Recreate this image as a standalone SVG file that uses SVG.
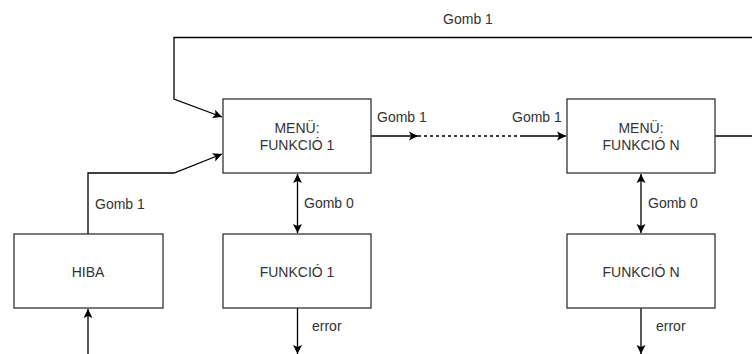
<svg xmlns="http://www.w3.org/2000/svg" width="752" height="354" viewBox="0 0 752 354">
<style>
.box{fill:#fff;stroke:#333;stroke-width:1.3}
.t{font-family:"Liberation Sans",Arial,sans-serif;font-size:14px;fill:#333}
.c{text-anchor:middle}
.e{fill:none;stroke:#000;stroke-width:1.3}
.d{stroke-dasharray:3 3}
</style>
<defs>
<marker id="ah" markerWidth="12" markerHeight="12" refX="0" refY="0" viewBox="-10 -6 12 12" orient="auto" markerUnits="userSpaceOnUse">
<path d="M-9,-4.5 L0,0 L-9,4.5 L-7,0 z" fill="#000"/>
</marker>
<marker id="ahs" markerWidth="12" markerHeight="12" refX="0" refY="0" viewBox="-10 -6 12 12" orient="auto-start-reverse" markerUnits="userSpaceOnUse">
<path d="M-9,-4.5 L0,0 L-9,4.5 L-7,0 z" fill="#000"/>
</marker>
</defs>
<rect width="752" height="354" fill="#fff"/>
<g id="connectors">
<path class="e" d="M752,37.5 H174 V99 L222,117" marker-end="url(#ah)"/>
<text class="t c" x="468" y="24">Gomb 1</text>
<path class="e" d="M88,234 V173 H174 L222,154" marker-end="url(#ah)"/>
<text class="t" x="95" y="209">Gomb 1</text>
<path class="e" d="M88,354 V309" marker-end="url(#ah)"/>
<path class="e" d="M371,136 H418" marker-end="url(#ah)"/>
<text class="t" x="377" y="122">Gomb 1</text>
<path class="e d" d="M418,136 H523"/>
<path class="e" d="M523,136 H566" marker-end="url(#ah)"/>
<text class="t" x="512" y="122">Gomb 1</text>
<path class="e" d="M715,136 H752"/>
<path class="e" d="M297.5,174 V233" marker-start="url(#ahs)" marker-end="url(#ah)"/>
<text class="t" x="304" y="208">Gomb 0</text>
<path class="e" d="M641,174 V233" marker-start="url(#ahs)" marker-end="url(#ah)"/>
<text class="t" x="648" y="208">Gomb 0</text>
<path class="e" d="M297.5,308 V354" marker-end="url(#ah)"/>
<text class="t" x="312" y="331">error</text>
<path class="e" d="M641,308 V354" marker-end="url(#ah)"/>
<text class="t" x="656" y="331">error</text>
</g>
<g id="menu1">
<rect class="box" x="223" y="99" width="148" height="74"/>
<text class="t c" x="297" y="133">MENÜ:</text>
<text class="t c" x="297" y="150">FUNKCIÓ 1</text>
</g>
<g id="menuN">
<rect class="box" x="567" y="99" width="148" height="74"/>
<text class="t c" x="641" y="133">MENÜ:</text>
<text class="t c" x="641" y="150">FUNKCIÓ N</text>
</g>
<g id="hiba">
<rect class="box" x="14" y="234" width="149" height="74"/>
<text class="t c" x="88" y="277">HIBA</text>
</g>
<g id="func1">
<rect class="box" x="223" y="234" width="148" height="74"/>
<text class="t c" x="297" y="277">FUNKCIÓ 1</text>
</g>
<g id="funcN">
<rect class="box" x="567" y="234" width="148" height="74"/>
<text class="t c" x="641" y="277">FUNKCIÓ N</text>
</g>
</svg>
